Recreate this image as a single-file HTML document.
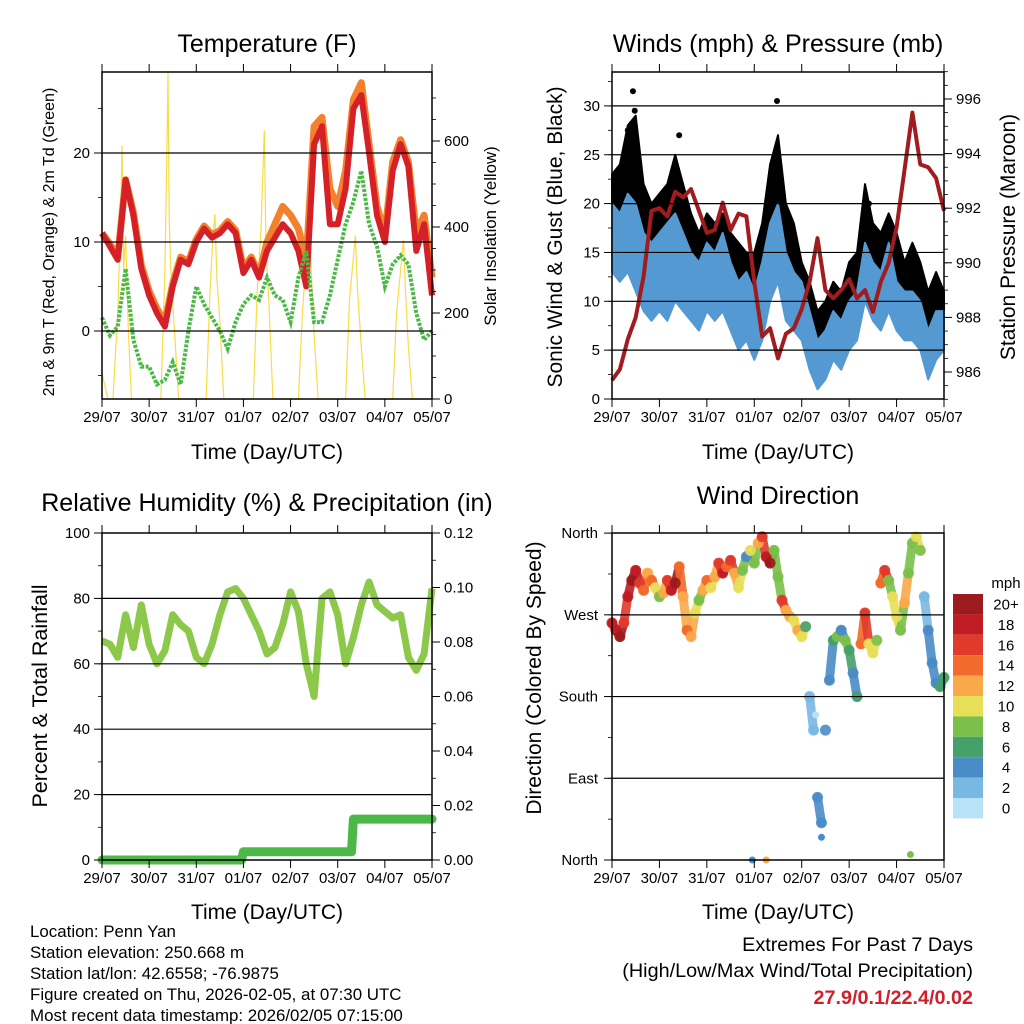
<!DOCTYPE html>
<html><head><meta charset="utf-8"><style>
body{margin:0;background:#fff}
svg{display:block;font-family:"Liberation Sans",sans-serif}
</style></head><body>
<svg id="s" width="1024" height="1024" viewBox="0 0 1024 1024">
<g id="g"></g>
<text x="267" y="52" font-size="25" text-anchor="middle">Temperature (F)</text>
<text x="778" y="52" font-size="25" text-anchor="middle">Winds (mph) &amp; Pressure (mb)</text>
<text x="267" y="511" font-size="25" text-anchor="middle">Relative Humidity (%) &amp; Precipitation (in)</text>
<text x="778" y="504" font-size="25" text-anchor="middle">Wind Direction</text>
<text x="267" y="459" font-size="21" text-anchor="middle">Time (Day/UTC)</text>
<text x="778" y="459" font-size="21" text-anchor="middle">Time (Day/UTC)</text>
<text x="267" y="919" font-size="21" text-anchor="middle">Time (Day/UTC)</text>
<text x="778" y="919" font-size="21" text-anchor="middle">Time (Day/UTC)</text>
<text transform="translate(54,242) rotate(-90)" font-size="16" text-anchor="middle">2m &amp; 9m T (Red, Orange) &amp; 2m Td (Green)</text>
<text transform="translate(496,236) rotate(-90)" font-size="16.8" text-anchor="middle">Solar Insolation (Yellow)</text>
<text transform="translate(562,237) rotate(-90)" font-size="21" text-anchor="middle">Sonic Wind &amp; Gust (Blue, Black)</text>
<text transform="translate(1015,237) rotate(-90)" font-size="21" text-anchor="middle">Station Pressure (Maroon)</text>
<text transform="translate(47,696) rotate(-90)" font-size="21.5" text-anchor="middle">Percent &amp; Total Rainfall</text>
<text transform="translate(541,678) rotate(-90)" font-size="21" text-anchor="middle">Direction (Colored By Speed)</text>
<g font-size="16.9">
<text x="30" y="937">Location: Penn Yan</text>
<text x="30" y="958">Station elevation: 250.668 m</text>
<text x="30" y="979">Station lat/lon: 42.6558; -76.9875</text>
<text x="30" y="1000">Figure created on Thu, 2026-02-05, at 07:30 UTC</text>
<text x="30" y="1021">Most recent data timestamp: 2026/02/05 07:15:00</text>
</g>
<g font-size="19.8" text-anchor="end">
<text x="973" y="951">Extremes For Past 7 Days</text>
<text x="973" y="977">(High/Low/Max Wind/Total Precipitation)</text>
<text x="973" y="1004" fill="#d0202c" font-weight="bold">27.9/0.1/22.4/0.02</text>
</g>
</svg>
<script>
const dayLabels=["29/07","30/07","31/07","01/07","02/07","03/07","04/07","05/07"];
const hrs4=[0,4,8,12,16,20,24,28,32,36,40,44,48,52,56,60,64,68,72,76,80,84,88,92,96,100,104,108,112,116,120,124,128,132,136,140,144,148,152,156,160,164,168];
const temp2m=[11,9.5,8,17,13,7,4,2,0.5,5,8,7.5,10,11.5,10.5,11,12,11,6.5,8,6,9,10.5,12,11,9,5,21,23,12,12,16,25,26.5,20,13,10,18,21,18.5,9,12,4];
const temp9m=[11,9.8,8.3,17,13.3,7.4,4.5,2.5,1,5.3,8.3,7.8,10.3,11.8,10.8,11.3,12.3,11.3,7,8.3,6.3,10,12,14,13,11.5,8,23,24,16,14,18,26,27.9,21,14,11,19,21.5,19,11,13,6];
const dew2m=[1.5,-0.5,0.5,7,-1,-4,-4,-6,-5.5,-3.5,-6,0,5,3,1.5,0,-2,1,3,4,3.5,6,4,3.5,1,6,9,1,1,4,8,12,14.5,18,12,9.5,5,7.5,8.5,7.5,2,-1,0];
const solarH=[0,3,5.6,8,9.5,10.2,11,12,13.5,15,30,32,33,33.6,34.2,35,37,39,53,55,56.5,57.5,58.5,60,62,77,79,81,82.6,83.5,85,87,100,102,104,105.5,106.5,108,110,124,126,128,129,130,132,134,148,150,152,153.5,154.5,156,158,168];
const solarV=[60,0,0,200,420,590,300,380,150,0,0,300,560,760,420,300,150,0,0,250,380,430,280,180,0,0,250,400,625,350,220,0,0,200,330,440,300,150,0,0,230,330,380,260,120,0,0,200,300,370,250,120,0,0];
const sustLo=[13,12,13,11,9,8,9,8,10,9,8,7,9,8,9,7,5,6,4,6,10,12,8,7,6,3,1,2,4,3,5,6,10,8,7,9,7,6,6,5,2,4,5];
const sustHi=[20,19,21,20,17,16,17,18,19,17,15,14,16,15,17,14,12,13,11,14,18,20,15,13,12,9,6,7,9,8,10,11,16,14,13,16,12,11,11,10,7,9,9];
const gustHi=[23,24,28,29,22,20,21,22,25,22,19,17,19,18,19,17,16,15,15,18,24,27,20,18,14,12,9,10,12,11,14,15,22,18,17,19,17,14,16,14,11,13,11];
const gustPeakH=[10.6,11.5,34,83.5,8,130];
const gustPeakV=[31.5,29.5,27,30.5,27.5,20];
const pressure=[985.7,986.1,987.2,988.0,989.5,991.9,992.0,991.7,992.6,992.4,992.7,991.9,991.1,991.2,992.2,991.2,991.8,991.7,989.3,987.3,987.6,986.5,987.4,987.6,988.3,989.3,990.9,989.0,988.7,989.0,989.4,988.7,989.0,988.2,989.3,990.0,991.3,993.4,995.5,993.6,993.5,993.1,991.9];
const rh=[67,66,62,75,65,78,66,60,64,75,72,70,62,60,66,75,82,83,80,75,70,63,65,72,82,76,60,50,80,82,75,60,68,78,85,78,76,74,75,62,58,63,83];
const precipH=[0,71,72,127,128,168];
const precipV=[0,0,0.003,0.003,0.015,0.015];
const dirH=[0,2,4,6,8,10,12,14,16,18,20,22,24,26,28,30,32,34,36,38,40,42,44,46,48,50,52,54,56,58,60,62,64,66,68,70,72,74,76,78,80,82,84,86,88,90,92,94,96,98,100,102,104,106,108,110,112,114,116,118,120,122,124,126,128,130,132,134,136,138,140,142,144,146,148,150,152,154,156,158,160,162,164,166,168];
const dirDeg=[261,253,246,261,290,308,319,305,297,316,308,300,290,294,308,297,305,323,290,253,246,272,286,297,308,300,312,327,316,323,330,316,300,319,334,341,327,349,356,334,327,341,312,286,275,268,264,253,246,257,180,143,69,41,143,198,242,246,253,242,231,206,180,238,272,238,228,242,305,319,308,290,268,253,283,316,349,356,341,290,253,217,195,191,201];
const dirSpd=[18,19,20,16,18,20,18,16,14,12,14,10,8,12,16,18,20,14,12,14,12,10,8,12,14,10,12,16,18,14,16,12,10,8,4,10,8,12,16,18,20,8,8,16,12,12,10,12,10,6,2,2,4,4,4,4,6,8,4,8,6,4,6,14,16,10,10,8,14,16,8,10,10,8,12,8,8,10,8,2,4,4,4,6,6];
const extraH=[71,78,151,106,103];
const extraDeg=[0,0,6,25,160];
const extraSpd=[4,13,9,4,1];
const cbLabels=["20+","18","16","14","12","10","8","6","4","2","0"];
const cbColors=["#9b1b1e","#c01c24","#e03a2c","#f26a2c","#f9a94a","#e8df58","#7ac04a","#46a06a","#4a8cc6","#7ab8e4","#b8e2f6"];

const NS="http://www.w3.org/2000/svg";
const G=document.getElementById('g');
function mk(tag,attrs,parent){const e=document.createElementNS(NS,tag);for(const k in attrs)e.setAttribute(k,attrs[k]);(parent||G).appendChild(e);return e;}
function grp(name){const e=mk('g',{});return e;}
function xs(P,h){return P.L+(P.R-P.L)*h/168;}
function pts(P,H,V,fy){return H.map((h,i)=>xs(P,h).toFixed(1)+','+fy(V[i]).toFixed(1)).join(' ');}
const P1={L:102,R:432,T:72,B:399},P2={L:612,R:944,T:72,B:399},P3={L:102,R:432,T:533,B:860},P4={L:612,R:944,T:533,B:860};
const yT=v=>331-8.9*v, yS=v=>399-0.43*v, yW=v=>399-9.77*v, yP=v=>372-27.3*(v-986), yRH=v=>860-3.27*v, yPr=v=>860-2725*v, yD=v=>860-0.908*v;
function spdColor(s){let i=Math.floor(s/2);if(i>10)i=10;if(i<0)i=0;return cbColors[10-i];}

function frame(P,name,left,right){
  const g=grp(name+'-axes');
  left.grid.forEach(v=>{const y=left.f(v);if(y>P.T+1&&y<P.B-1){const l=mk('line',{x1:P.L,x2:P.R,y1:y,y2:y,stroke:'#000','stroke-width':1.2},g);}});
  mk('rect',{x:P.L,y:P.T,width:P.R-P.L,height:P.B-P.T,fill:'none',stroke:'#000','stroke-width':1.5},g);
  for(let d=0;d<=7;d++){const x=xs(P,d*24);
    mk('line',{x1:x,x2:x,y1:P.B,y2:P.B+8,stroke:'#000'},g);mk('line',{x1:x,x2:x,y1:P.T,y2:P.T-8,stroke:'#000'},g);
    const t=mk('text',{x:x,y:P.B+23,'font-size':15,'text-anchor':'middle'},g);t.textContent=dayLabels[d];
    }
  [left,right].forEach((ax,k)=>{if(!ax)return;const X=k?P.R:P.L,s=k?1:-1;
    ax.minor.forEach(v=>{const y=ax.f(v);if(y>=P.T-0.5&&y<=P.B+0.5)mk('line',{x1:X,x2:X+s*4,y1:y,y2:y,stroke:'#000','stroke-width':0.8},g);});
    ax.ticks.forEach((v,i)=>{const y=ax.f(v);mk('line',{x1:X,x2:X+s*8,y1:y,y2:y,stroke:'#000'},g);
      const t=mk('text',{x:X+s*(ax.pad||12),y:y+5,'font-size':15,'text-anchor':k?'start':'end'},g);t.textContent=ax.labels[i];
      });});
}
function range(a,b,s){const r=[];for(let v=a;v<=b+1e-9;v+=s)r.push(+v.toFixed(4));return r;}

(function(){const P=P1;
 const sol=grp('solar-line');mk('polyline',{points:pts(P,solarH,solarV,yS),fill:'none',stroke:'#f7dc4a','stroke-width':1.2},sol);
 const o=grp('temp-9m-line');mk('polyline',{points:pts(P,hrs4,temp9m,yT),fill:'none',stroke:'#f2802c','stroke-width':7,'stroke-linejoin':'round'},o);
 const r=grp('temp-2m-line');mk('polyline',{points:pts(P,hrs4,temp2m,yT),fill:'none',stroke:'#d42026','stroke-width':6,'stroke-linejoin':'round'},r);
 const d=grp('dewpoint-line');mk('polyline',{points:pts(P,hrs4,dew2m,yT),fill:'none',stroke:'#4cb848','stroke-width':4,'stroke-dasharray':'3 1.5'},d);
 frame(P,'temperature',{f:yT,grid:[0,10,20],ticks:[0,10,20],labels:['0','10','20'],minor:range(-5,25,5)},{f:yS,ticks:[0,200,400,600],labels:['0','200','400','600'],minor:range(0,700,50),pad:12});
})();
(function(){const P=P2;
 const g=grp('gust-area');
 const top=hrs4.map((h,i)=>xs(P,h).toFixed(1)+','+yW(gustHi[i]).toFixed(1));
 const bot=hrs4.map((h,i)=>xs(P,h).toFixed(1)+','+yW(sustLo[i]+1.5).toFixed(1)).reverse();
 mk('polygon',{points:top.concat(bot).join(' '),fill:'#000',stroke:'#000','stroke-width':2,'stroke-linejoin':'round'},g);
 gustPeakH.forEach((h,i)=>{const c=mk('circle',{cx:xs(P,h),cy:yW(gustPeakV[i]),r:3,fill:'#000'},g);});
 const b=grp('sustained-wind-area');
 const t2=hrs4.map((h,i)=>xs(P,h).toFixed(1)+','+yW(sustHi[i]).toFixed(1));
 const b2=hrs4.map((h,i)=>xs(P,h).toFixed(1)+','+yW(sustLo[i]).toFixed(1)).reverse();
 mk('polygon',{points:t2.concat(b2).join(' '),fill:'#5499d2',stroke:'#5499d2','stroke-width':2,'stroke-linejoin':'round'},b);
 const p=grp('pressure-line');mk('polyline',{points:pts(P,hrs4,pressure,yP),fill:'none',stroke:'#a01c1e','stroke-width':4,'stroke-linejoin':'round'},p);
 frame(P,'winds',{f:yW,grid:[5,10,15,20,25,30],ticks:[0,5,10,15,20,25,30],labels:['0','5','10','15','20','25','30'],minor:range(0,33,2.5)},{f:yP,ticks:[986,988,990,992,994,996],labels:['986','988','990','992','994','996'],minor:range(985,997,0.5)});
})();
(function(){const P=P3;
 const r=grp('rh-line');mk('polyline',{points:pts(P,hrs4,rh,yRH),fill:'none',stroke:'#8cc84a','stroke-width':7,'stroke-linejoin':'round'},r);
 const p=grp('precip-line');mk('polyline',{points:pts(P,precipH,precipV,yPr),fill:'none',stroke:'#4cb848','stroke-width':9,'stroke-linejoin':'round','stroke-linecap':'round'},p);
 frame(P,'humidity',{f:yRH,grid:[20,40,60,80],ticks:[0,20,40,60,80,100],labels:['0','20','40','60','80','100'],minor:range(0,100,10)},{f:yPr,ticks:[0,0.02,0.04,0.06,0.08,0.1,0.12],labels:['0.00','0.02','0.04','0.06','0.08','0.10','0.12'],minor:range(0,0.12,0.01)});
})();
(function(){const P=P4;
 const g=grp('direction-points');
 for(let i=0;i<dirH.length-1;i++){if(Math.abs(dirDeg[i+1]-dirDeg[i])<45){
   mk('line',{x1:xs(P,dirH[i]),y1:yD(dirDeg[i]),x2:xs(P,dirH[i+1]),y2:yD(dirDeg[i+1]),stroke:spdColor(dirSpd[i]),'stroke-width':9,'stroke-linecap':'round',opacity:0.9},g);}}
 dirH.forEach((h,i)=>{const c=mk('circle',{cx:xs(P,h),cy:yD(dirDeg[i]),r:5.5,fill:spdColor(dirSpd[i]),opacity:0.9},g);
   });
 extraH.forEach((h,i)=>{const c=mk('circle',{cx:xs(P,h),cy:yD(extraDeg[i]),r:3.5,fill:spdColor(extraSpd[i])},g);
   });
 frame(P,'direction',{f:yD,grid:[90,180,270],ticks:[0,90,180,270,360],labels:['North','East','South','West','North'],minor:range(0,360,45),pad:14},null);
 const cb=grp('speed-colorbar');
 const m=mk('text',{x:1006,y:588,'font-size':15,'text-anchor':'middle'},cb);m.textContent='mph';
 cbLabels.forEach((lab,i)=>{const y=594+i*20.4;
   const r=mk('rect',{x:953,y:y,width:30,height:20.4,fill:cbColors[i]},cb);
   const t=mk('text',{x:1006,y:y+15.5,'font-size':15,'text-anchor':'middle'},cb);t.textContent=lab;});
})();
</script>
</body></html>
